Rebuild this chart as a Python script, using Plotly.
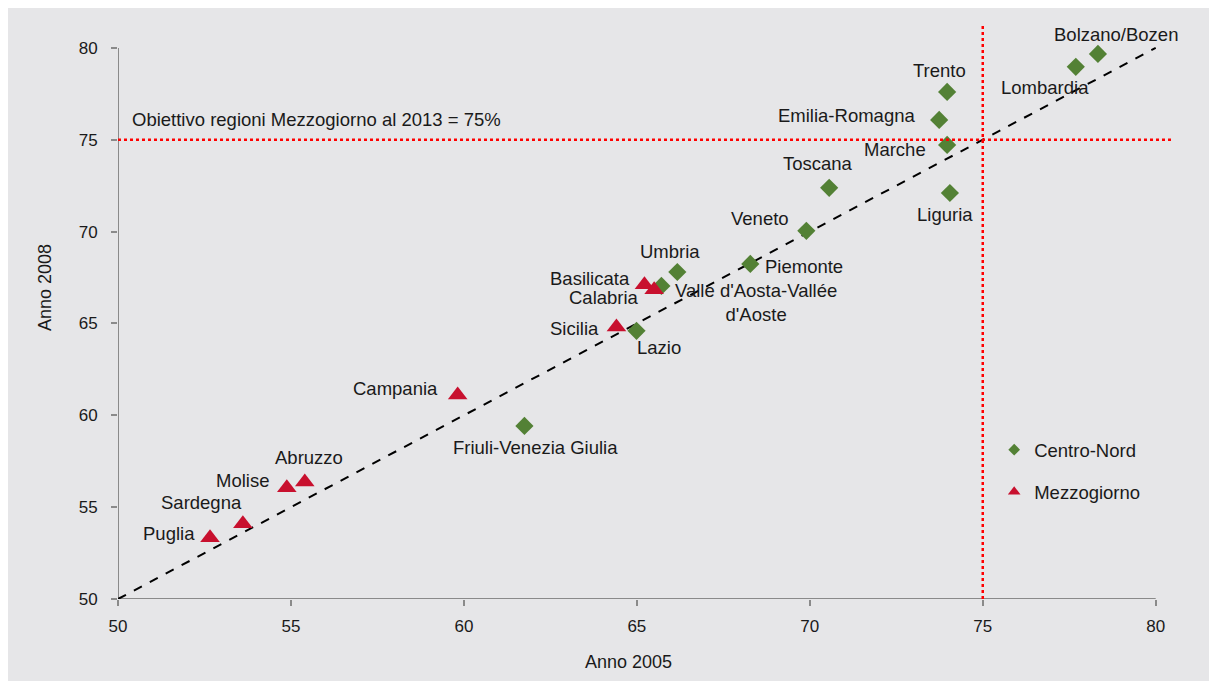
import plotly.graph_objects as go

# ---- data ----
cn_regions = ["Bolzano/Bozen", "Lombardia", "Trento", "Emilia-Romagna", "Marche",
              "Toscana", "Liguria", "Veneto", "Piemonte", "Umbria",
              "Valle d'Aosta-Vallée<br>d'Aoste", "Lazio", "Friuli-Venezia Giulia"]
cn_2005 = [78.33, 77.69, 73.97, 73.74, 73.97, 70.56, 74.05, 69.90, 68.28, 66.17, 65.71, 64.99, 61.75]
cn_2008 = [79.67, 78.97, 77.60, 76.08, 74.72, 72.38, 72.10, 70.04, 68.24, 67.80, 67.04, 64.60, 59.42]

mz_regions = ["Basilicata", "Calabria", "Sicilia", "Campania", "Abruzzo", "Molise", "Sardegna", "Puglia"]
mz_2005 = [65.22, 65.50, 64.41, 59.82, 55.40, 54.88, 53.61, 52.66]
mz_2008 = [67.10, 66.83, 64.81, 61.11, 56.37, 56.05, 54.09, 53.33]

ticks = [50, 55, 60, 65, 70, 75, 80]
target = 75
target_label = "Obiettivo regioni Mezzogiorno al 2013 = 75%"

# label placement (xanchor, xshift, yshift) per region
cn_label_pos = [("center", 18, 19), ("center", -31, -21), ("center", -8, 21), ("right", -22, 4),
                ("right", -19, -5), ("center", -11, 24), ("center", -5, -21), ("right", -15, 12),
                ("left", 13, -3), ("center", -7, 21), ("center", 95, -17), ("center", 22, -17),
                ("center", 11, -22)]
mz_label_pos = [("right", -12, 6), ("right", -13, -8), ("right", -15, -2), ("right", -18, 6),
                ("center", 4, 24), ("right", -16, 7), ("center", -41, 21), ("right", -13, 4)]

GREEN = "#538135"
RED = "#c8102e"
BG = "#e6e6e8"
AX = "#8a8a8a"
TXT = "#1a1a1a"
FONT = "Liberation Sans, Arial, sans-serif"
LBL = 18.5

fig = go.Figure()

# diagonal
fig.add_trace(go.Scatter(x=[ticks[0], ticks[-1]], y=[ticks[0], ticks[-1]], mode="lines",
                         line=dict(color="black", width=2, dash="dash"),
                         showlegend=False, hoverinfo="skip"))

fig.add_trace(go.Scatter(x=cn_2005, y=cn_2008, mode="markers",
                         marker=dict(symbol="diamond", size=14, color=GREEN),
                         showlegend=False, text=cn_regions))
fig.add_trace(go.Scatter(x=mz_2005, y=mz_2008, mode="markers",
                         marker=dict(symbol="triangle-up", size=17, color=RED),
                         showlegend=False, text=mz_regions))

# legend-only traces with small markers
fig.add_trace(go.Scatter(x=[None], y=[None], mode="markers", name="Centro-Nord",
                         marker=dict(symbol="diamond", size=9, color=GREEN), legendgroup="a"))
fig.add_trace(go.Scatter(x=[None], y=[None], mode="markers", name="Mezzogiorno",
                         marker=dict(symbol="triangle-up", size=11, color=RED), legendgroup="b"))

annotations = []
for names, xs, ys, pos in [(cn_regions, cn_2005, cn_2008, cn_label_pos),
                           (mz_regions, mz_2005, mz_2008, mz_label_pos)]:
    for n, x, y, (xa, dx, dy) in zip(names, xs, ys, pos):
        annotations.append(dict(x=x, y=y, text=n, showarrow=False, xanchor=xa, yanchor="middle",
                                xshift=dx, yshift=dy, font=dict(size=LBL, color=TXT, family=FONT)))

annotations.append(dict(x=ticks[0], y=target, text=target_label, showarrow=False, xanchor="left",
                        yanchor="middle", xshift=12, yshift=20,
                        font=dict(size=LBL, color=TXT, family=FONT)))
annotations.append(dict(xref="paper", yref="paper", x=0.4835, y=-0.1096, text="Anno 2005",
                        showarrow=False, xanchor="center", yanchor="middle",
                        font=dict(size=18, color=TXT, family=FONT)))
annotations.append(dict(xref="paper", yref="paper", x=-0.0691, y=0.541, text="Anno 2008",
                        showarrow=False, xanchor="center", yanchor="middle", textangle=-90,
                        font=dict(size=18, color=TXT, family=FONT)))

shapes = [
    # axis lines
    dict(type="line", x0=ticks[0], x1=ticks[-1], y0=ticks[0], y1=ticks[0], line=dict(color=AX, width=2), layer="below"),
    dict(type="line", x0=ticks[0], x1=ticks[0], y0=ticks[0], y1=ticks[-1], line=dict(color=AX, width=2), layer="below"),
    # target lines
    dict(type="line", x0=ticks[0], x1=80.5, y0=target, y1=target, line=dict(color="#ff0000", width=2.5, dash="dot")),
    dict(type="line", x0=target, x1=target, y0=ticks[0], y1=81.3, line=dict(color="#ff0000", width=2.5, dash="dot")),
]

fig.update_layout(
    width=1209, height=673,
    margin=dict(l=110, r=44, t=16, b=82),
    paper_bgcolor=BG, plot_bgcolor=BG,
    font=dict(family=FONT, size=16, color=TXT),
    annotations=annotations, shapes=shapes,
    legend=dict(x=0.8305, y=0.292, xanchor="left", yanchor="top", bgcolor="rgba(0,0,0,0)",
                font=dict(size=LBL, family=FONT, color=TXT), tracegroupgap=15, itemwidth=30),
    showlegend=True,
)
fig.update_xaxes(range=[50, 80.5], tickvals=ticks, showgrid=False, zeroline=False, showline=False,
                 ticks="outside", ticklen=6, tickwidth=2, tickcolor=AX, ticklabelstandoff=6,
                 tickfont=dict(size=17, color=TXT))
fig.update_yaxes(range=[50, 81.3], tickvals=ticks, showgrid=False, zeroline=False, showline=False,
                 ticks="outside", ticklen=6, tickwidth=2, tickcolor=AX, ticklabelstandoff=10,
                 tickfont=dict(size=17, color=TXT))

fig.write_html("out.html")
